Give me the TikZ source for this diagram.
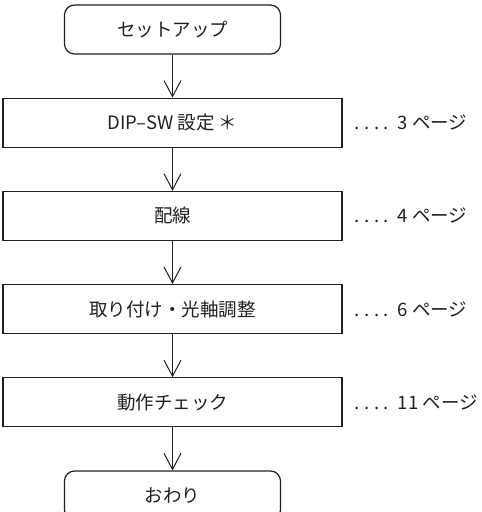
\documentclass[tikz,border=0pt]{standalone}
\usepackage{fontspec}
\setmainfont{Noto Sans CJK JP}
\usetikzlibrary{positioning, arrows.meta}
\definecolor{lineMain}{HTML}{231F20}
\definecolor{textMain}{HTML}{231F20}
\newcommand{\pagedots}{.\hspace{4.5pt}.\hspace{4.5pt}.\hspace{4.5pt}.\hspace{9pt}}
\tikzset{
  termbox/.style={draw=lineMain, rounded corners=10pt,
    minimum width=216pt, minimum height=49pt, inner sep=0pt,
    font=\fontsize{18.5}{20}\selectfont, text=textMain, line width=1.2pt, align=center},
  stepbox/.style={draw=lineMain,
    minimum width=339pt, minimum height=49pt, inner sep=0pt,
    font=\fontsize{18.5}{20}\selectfont, text=textMain, line width=1.2pt, align=center},
  pagelabel/.style={font=\fontsize{18.5}{20}\selectfont, text=textMain, anchor=west, inner sep=0pt},
  flowarrow/.style={-{Straight Barb[length=16pt, width=17pt]}, line width=1pt, color=lineMain},
}
\begin{document}
\begin{tikzpicture}[x=1pt, y=1pt]

  \useasboundingbox (0,0) rectangle (482,-512);

  % === Start ===
  \node[termbox] (start) at (172.5,-29.5) {セットアップ};

  % === Steps ===
  \node[stepbox, below=43pt of start] (dipsw) {DIP–SW 設定 ＊};
  \node[stepbox, below=43pt of dipsw] (wiring) {配線};
  \node[stepbox, below=43pt of wiring] (mount) {取り付け・光軸調整};
  \node[stepbox, below=43pt of mount] (check) {動作チェック};

  % === End ===
  \node[termbox, below=43pt of check] (finish) {おわり};

  % Page references
  \node[pagelabel, right=12pt of dipsw] (pdipsw) {\pagedots 3 ページ};
  \node[pagelabel, right=12pt of wiring] (pwiring) {\pagedots 4 ページ};
  \node[pagelabel, right=12pt of mount] (pmount) {\pagedots 6 ページ};
  \node[pagelabel, right=12pt of check] (pcheck) {\pagedots 11 ページ};

  % Arrows
  \draw[flowarrow] (start) -- (dipsw);
  \draw[flowarrow] (dipsw) -- (wiring);
  \draw[flowarrow] (wiring) -- (mount);
  \draw[flowarrow] (mount) -- (check);
  \draw[flowarrow] (check) -- (finish);

\end{tikzpicture}
\end{document}
